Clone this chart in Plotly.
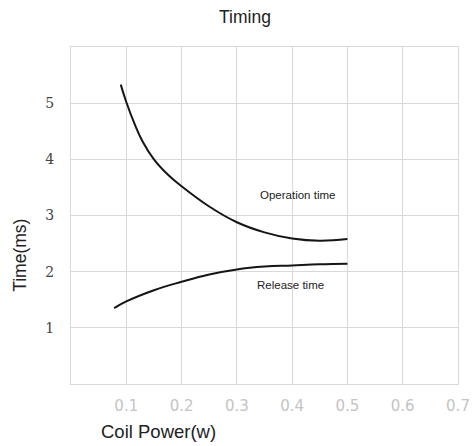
import plotly.graph_objects as go

# Data
op_x = [0.09, 0.1, 0.115, 0.13, 0.15, 0.175, 0.2, 0.25, 0.3, 0.35, 0.4, 0.45, 0.5]
op_y = [5.33, 5.02, 4.63, 4.31, 4.00, 3.73, 3.52, 3.16, 2.88, 2.70, 2.59, 2.55, 2.58]
rel_x = [0.078, 0.1, 0.15, 0.2, 0.25, 0.3, 0.35, 0.4, 0.45, 0.5]
rel_y = [1.35, 1.47, 1.67, 1.82, 1.95, 2.04, 2.09, 2.11, 2.13, 2.14]
x_ticks = [0.1, 0.2, 0.3, 0.4, 0.5, 0.6, 0.7]
y_ticks = [1, 2, 3, 4, 5]

fig = go.Figure()
fig.add_trace(go.Scatter(x=op_x, y=op_y, mode="lines",
                         line=dict(color="#151515", width=2, shape="spline", smoothing=1.2),
                         showlegend=False, hoverinfo="skip"))
fig.add_trace(go.Scatter(x=rel_x, y=rel_y, mode="lines",
                         line=dict(color="#151515", width=2, shape="spline", smoothing=1.2),
                         showlegend=False, hoverinfo="skip"))

fig.add_annotation(x=0.41, y=3.37, text="Operation time", showarrow=False,
                   font=dict(family="Liberation Sans", size=11.5, color="#222"))
fig.add_annotation(x=0.397, y=1.77, text="Release time", showarrow=False,
                   font=dict(family="Liberation Sans", size=11.5, color="#222"))

fig.add_annotation(xref="paper", yref="paper", x=-0.132, y=0.383, text="Time(ms)",
                   textangle=-90, showarrow=False, xanchor="center", yanchor="middle",
                   font=dict(family="Liberation Sans", size=17.5, color="#222"))
fig.add_annotation(xref="paper", yref="paper", x=0.072, y=-0.14, text="Coil Power(w)",
                   xanchor="left", yanchor="middle", showarrow=False,
                   font=dict(family="Liberation Sans", size=18.5, color="#222"))

fig.update_layout(
    width=473, height=446,
    margin=dict(l=71, r=15, t=47, b=62, autoexpand=False),
    paper_bgcolor="white", plot_bgcolor="white",
    title=dict(text="Timing", x=0.518, xanchor="center", y=0.963, yanchor="middle",
               font=dict(family="Liberation Sans", size=17.5, color="#222")),
    xaxis=dict(range=[0, 0.7], tickvals=x_ticks, ticktext=[str(v) for v in x_ticks],
               showgrid=True, gridcolor="#d9d9d9", gridwidth=1, automargin=False,
               showline=True, linecolor="#d9d9d9", linewidth=1, mirror=True,
               zeroline=False, ticks="", ticklabelstandoff=8,
               tickfont=dict(family="DejaVu Sans", size=15, color="#c4c4c4")),
    yaxis=dict(range=[0, 6], tickvals=y_ticks, ticktext=[str(v) for v in y_ticks],
               showgrid=True, gridcolor="#d9d9d9", gridwidth=1, automargin=False,
               showline=True, linecolor="#d9d9d9", linewidth=1, mirror=True,
               zeroline=False, ticks="", ticklabelstandoff=13,
               tickfont=dict(family="DejaVu Serif", size=14, color="#444")),
)

fig.write_html("out.html", config={"displayModeBar": False},
               post_script="document.body.style.margin='0';document.body.style.overflow='hidden';")
